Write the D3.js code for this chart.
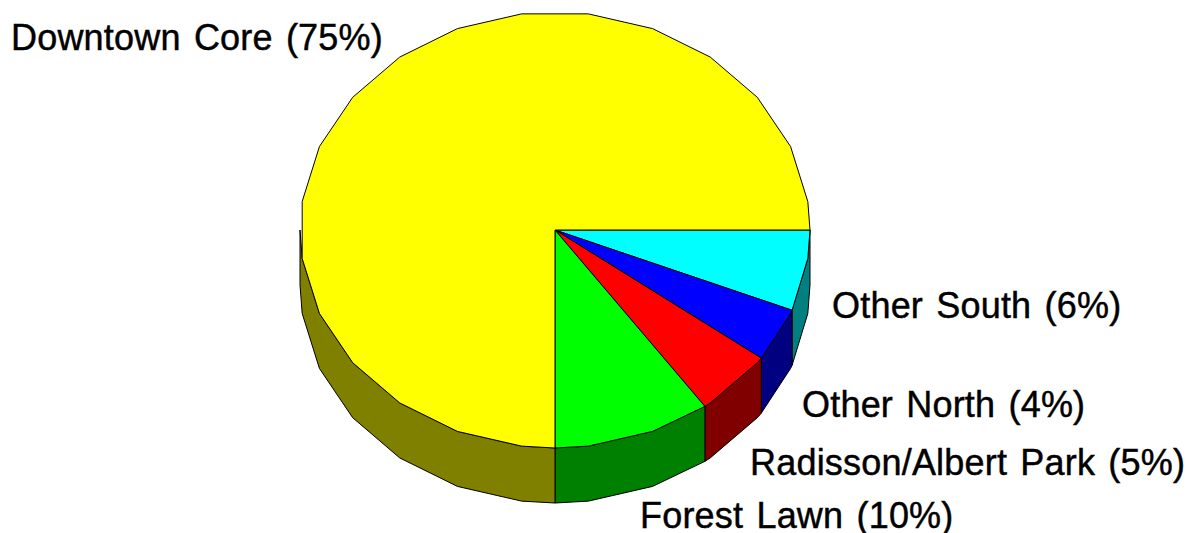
<!DOCTYPE html>
<html>
<head>
<meta charset="utf-8">
<script src="https://cdn.jsdelivr.net/npm/d3@7"></script>
<style>
  html, body { margin: 0; padding: 0; background: #ffffff; }
  svg { display: block; }
</style>
</head>
<body>
<script>
// ---- data ----
const categories = ["Other South", "Other North", "Radisson/Albert Park", "Forest Lawn", "Downtown Core"];
const values = [6, 4, 5, 10, 75];
const labels = ["Other South (6%)", "Other North (4%)", "Radisson/Albert Park (5%)", "Forest Lawn (10%)", "Downtown Core (75%)"];

// ---- styles ----
const topColors  = ["#00FFFF", "#0000FF", "#FF0000", "#00FF00", "#FFFF00"];
const sideColors = ["#008080", "#000080", "#800000", "#008000", "#808000"];

// ---- layout ----
const W = 1190, H = 533;
const geom = { cx: 555, cy: 230, rx: 255, ry: 218, depth: 55, stepDeg: 15, offsetDeg: 7.5 };
const labelPos = {
  "Other South": [832, 318],
  "Other North": [802, 417],
  "Radisson/Albert Park": [750, 475],
  "Forest Lawn": [640, 528],
  "Downtown Core": [11, 49.5]
};

const svg = d3.select("body").append("svg").attr("width", W).attr("height", H);

const pie = d3.pie().sort(null).value(d => d)
  .startAngle(Math.PI / 2).endAngle(Math.PI / 2 + 2 * Math.PI);
const arcs = pie(values);

// d3 pie angle (0 = 12 o'clock, clockwise) -> screen parametric angle t (0 = east, clockwise)
const toT = a => a - Math.PI / 2;
const px = t => geom.cx + geom.rx * Math.cos(t);
const py = (t, dz = 0) => geom.cy + geom.ry * Math.sin(t) + dz;

// polygonal ellipse arc: endpoints plus fixed grid vertices in between
function arcTs(t0, t1) {
  const step = geom.stepDeg * Math.PI / 180, off = geom.offsetDeg * Math.PI / 180;
  const ts = [t0];
  let k = Math.ceil((t0 - off) / step + 1e-9);
  for (; off + k * step < t1 - 1e-9; k++) ts.push(off + k * step);
  ts.push(t1);
  return ts;
}

const line = d3.line();

// side walls (front half: t in [0, PI])
const walls = [];
arcs.forEach((d, i) => {
  const t0 = toT(d.startAngle), t1 = toT(d.endAngle);
  [[0, Math.PI], [2 * Math.PI, 3 * Math.PI]].forEach(([lo, hi]) => {
    const a = Math.max(t0, lo), b = Math.min(t1, hi);
    if (b > a + 1e-9) {
      const ts = arcTs(a, b);
      const pts = ts.map(t => [px(t), py(t)])
        .concat(ts.slice().reverse().map(t => [px(t), py(t, geom.depth)]));
      walls.push({ i, pts });
    }
  });
});

svg.append("g").selectAll("path").data(walls).join("path")
  .attr("d", w => line(w.pts) + "Z")
  .attr("fill", w => sideColors[w.i])
  .attr("stroke", "#000").attr("stroke-width", 1).attr("stroke-linejoin", "round");

// top faces
svg.append("g").selectAll("path").data(arcs).join("path")
  .attr("d", d => {
    const ts = arcTs(toT(d.startAngle), toT(d.endAngle));
    const pts = [[geom.cx, geom.cy]].concat(ts.map(t => [px(t), py(t)]));
    return line(pts) + "Z";
  })
  .attr("fill", (d, i) => topColors[i])
  .attr("stroke", "#000").attr("stroke-width", 1).attr("stroke-linejoin", "round");

// labels
svg.append("g").selectAll("text").data(categories).join("text")
  .attr("x", c => labelPos[c][0])
  .attr("y", c => labelPos[c][1])
  .attr("font-family", "'Liberation Sans', Arial, sans-serif")
  .attr("font-size", 36)
  .attr("letter-spacing", "0.2px")
  .attr("word-spacing", "3px")
  .attr("fill", "#000")
  .attr("stroke", "#000")
  .attr("stroke-width", 0.45)
  .text((c, i) => labels[i]);
</script>
</body>
</html>
